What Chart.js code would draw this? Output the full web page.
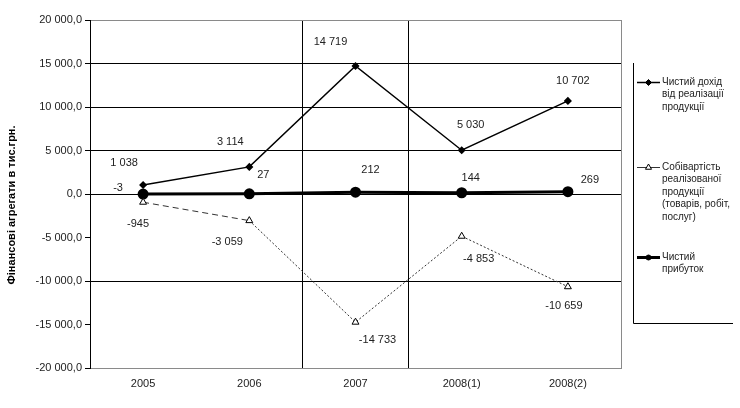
<!DOCTYPE html>
<html>
<head>
<meta charset="utf-8">
<script src="https://cdn.jsdelivr.net/npm/chart.js@4.4.1/dist/chart.umd.min.js"></script>
<style>
html,body{margin:0;padding:0;background:#fff;}
#wrap{width:740px;height:408px;position:relative;}
</style>
</head>
<body>
<div id="wrap"><canvas id="c" width="740" height="408"></canvas></div>
<script>
// ---- data ----
const categories = ['2005', '2006', '2007', '2008(1)', '2008(2)'];
const netRevenue = [1038, 3114, 14719, 5030, 10702];
const costOfSales = [-945, -3059, -14733, -4853, -10659];
const netProfit = [-3, 27, 212, 144, 269];
const yMin = -20000;
const yMax = 20000;
const yStep = 5000;
const gridValues = [15000, 10000, 5000, 0, -10000];
const seriesNames = [
  ['Чистий дохід', 'від реалізації', 'продукції'],
  ['Собівартість', 'реалізованої', 'продукції', '(товарів, робіт,', 'послуг)'],
  ['Чистий', 'прибуток']
];
const yTitle = 'Фінансові агрегати в тис.грн.';

// ---- styles (label offsets, px) ----
const labelOffsets = [
  [[-19,-22],[-19,-25],[-25,-24],[9,-25],[5,-20]],
  [[-5,22],[-22,21],[22,18],[17,23],[-4,19]],
  [[-25,-6],[14,-19],[15,-22],[9,-15],[22,-12]]
];
const legendMarkerRadius = [3, 3.5, 2.5];
const FONT = '"Liberation Sans", Arial, sans-serif';

function fmtInt(v) {
  const s = Math.abs(Math.round(v)).toString().replace(/\B(?=(\d{3})+(?!\d))/g, ' ');
  return (v < 0 ? '-' : '') + s;
}
function fmtTick(v) {
  const s = Math.abs(v).toString().replace(/\B(?=(\d{3})+(?!\d))/g, ' ');
  return (v < 0 ? '-' : '') + s + ',0';
}

const extras = {
  id: 'extras',
  beforeDraw(chart) {
    const ctx = chart.ctx;
    ctx.save();
    ctx.fillStyle = '#fff';
    ctx.fillRect(0, 0, chart.width, chart.height);
    ctx.restore();
  },
  afterDatasetsDraw(chart) {
    const ctx = chart.ctx;
    const ca = chart.chartArea;
    ctx.save();
    // right border
    ctx.strokeStyle = '#8a8a8a';
    ctx.lineWidth = 1;
    ctx.beginPath();
    ctx.moveTo(Math.round(ca.right) + 0.5, ca.top);
    ctx.lineTo(Math.round(ca.right) + 0.5, ca.bottom);
    ctx.stroke();

    // data labels
    ctx.font = '11px ' + FONT;
    ctx.fillStyle = '#222';
    ctx.textAlign = 'center';
    ctx.textBaseline = 'middle';
    chart.data.datasets.forEach((ds, di) => {
      const meta = chart.getDatasetMeta(di);
      meta.data.forEach((pt, i) => {
        const off = labelOffsets[di][i];
        ctx.fillText(fmtInt(ds.data[i]), pt.x + off[0], pt.y + off[1]);
      });
    });

    // y title
    ctx.save();
    ctx.translate(12, 205);
    ctx.rotate(-Math.PI / 2);
    ctx.font = 'bold 11px ' + FONT;
    ctx.fillStyle = '#000';
    ctx.fillText(yTitle, 0, 0);
    ctx.restore();

    // legend box (left + bottom edges)
    ctx.strokeStyle = '#000';
    ctx.lineWidth = 1;
    ctx.beginPath();
    ctx.moveTo(633.5, 63);
    ctx.lineTo(633.5, 323.5);
    ctx.lineTo(733, 323.5);
    ctx.stroke();

    const itemY = [82, 167, 257];
    chart.data.datasets.forEach((ds, di) => {
      const y = itemY[di];
      ctx.save();
      ctx.strokeStyle = ds.borderColor;
      ctx.lineWidth = ds.borderWidth;
      ctx.setLineDash([]);
      ctx.beginPath();
      ctx.moveTo(637, y + 0.5);
      ctx.lineTo(660, y + 0.5);
      ctx.stroke();
      ctx.fillStyle = ds.pointBackgroundColor;
      ctx.strokeStyle = ds.pointBorderColor;
      ctx.lineWidth = 1;
      Chart.helpers.drawPoint(ctx, {
        pointStyle: ds.pointStyle,
        radius: legendMarkerRadius[di],
        borderWidth: 1,
        rotation: 0
      }, 648.5, y + 0.5);
      ctx.restore();
      ctx.font = '10px ' + FONT;
      ctx.textAlign = 'left';
      ctx.textBaseline = 'middle';
      ctx.fillStyle = '#222';
      seriesNames[di].forEach((line, li) => {
        ctx.fillText(line, 662, y + li * 12.5);
      });
    });
    ctx.restore();
  }
};

const chart = new Chart(document.getElementById('c'), {
  type: 'line',
  data: {
    labels: categories,
    datasets: [
      {
        label: seriesNames[0].join(' '),
        data: netRevenue,
        borderColor: '#000',
        backgroundColor: '#000',
        borderWidth: 1.5,
        pointStyle: 'rectRot',
        pointRadius: 3,
        pointBackgroundColor: '#000',
        pointBorderColor: '#000',
        tension: 0
      },
      {
        label: seriesNames[1].join(' '),
        data: costOfSales,
        borderColor: '#333',
        backgroundColor: '#fff',
        borderWidth: 1,
        borderDash: [2, 2],
        segment: {
          borderDash: c => c.p0DataIndex === 0 ? [6, 4] : [2, 2]
        },
        pointStyle: 'triangle',
        pointRadius: 4,
        pointBackgroundColor: '#fff',
        pointBorderColor: '#000',
        pointBorderWidth: 1,
        tension: 0
      },
      {
        label: seriesNames[2].join(' '),
        data: netProfit,
        borderColor: '#000',
        backgroundColor: '#000',
        borderWidth: 3,
        pointStyle: 'circle',
        pointRadius: 4,
        pointBackgroundColor: '#000',
        pointBorderColor: '#000',
        tension: 0
      }
    ]
  },
  options: {
    responsive: false,
    animation: false,
    devicePixelRatio: 1,
    layout: { padding: { top: 20, right: 119, bottom: 0, left: 0 } },
    plugins: {
      legend: { display: false },
      tooltip: { enabled: false },
      title: { display: false }
    },
    scales: {
      x: {
        offset: true,
        afterFit: s => { s.height = 40; },
        grid: {
          offset: true,
          drawTicks: false,
          color: c => (c.index === 2 || c.index === 3) ? '#000' : 'rgba(0,0,0,0)',
          lineWidth: 1
        },
        border: { color: '#8a8a8a', width: 1 },
        ticks: {
          padding: 9,
          color: '#222',
          font: { family: FONT, size: 11 }
        }
      },
      y: {
        min: yMin,
        max: yMax,
        afterFit: s => { s.width = 90; },
        ticks: {
          stepSize: yStep,
          padding: 3,
          color: '#222',
          font: { family: FONT, size: 11 },
          callback: v => fmtTick(v)
        },
        grid: {
          drawTicks: true,
          tickLength: 5,
          tickColor: '#000',
          color: c => {
            const v = c.tick ? c.tick.value : null;
            if (v === yMax) return '#8a8a8a';
            return gridValues.includes(v) ? '#000' : 'rgba(0,0,0,0)';
          },
          lineWidth: 1
        },
        border: { color: '#000', width: 1 }
      }
    }
  },
  plugins: [extras]
});
</script>
</body>
</html>
